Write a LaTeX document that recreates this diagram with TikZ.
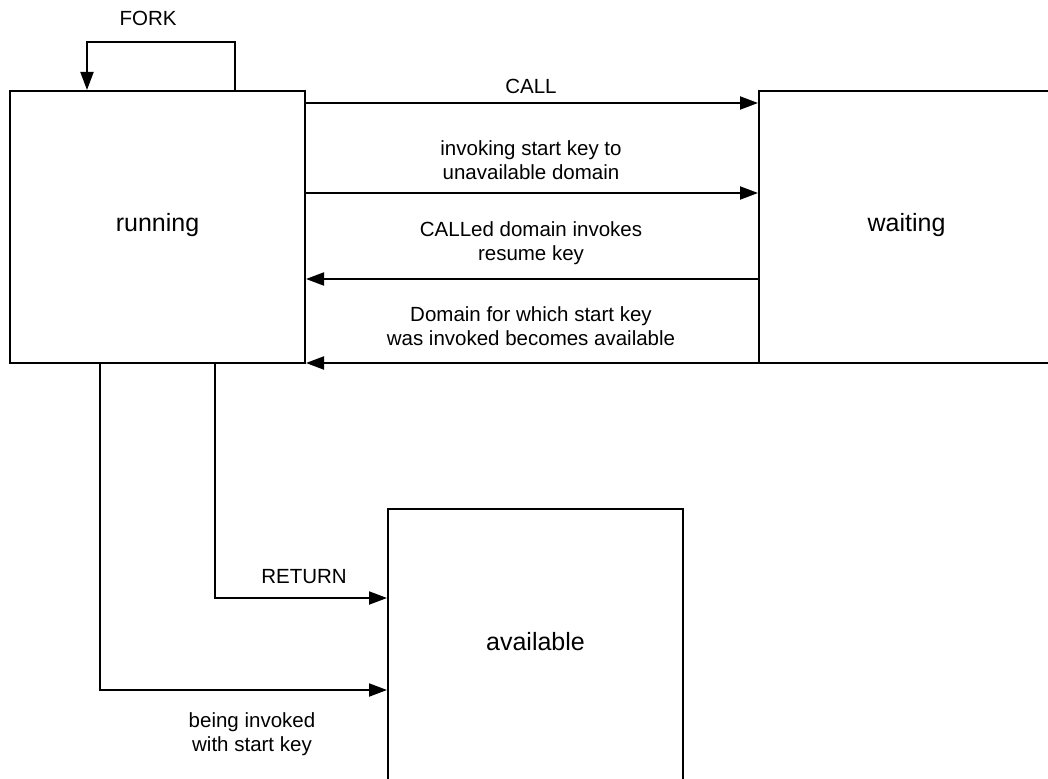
\documentclass[tikz,border=0pt]{standalone}
\usepackage{fontspec}
\setmainfont{Liberation Sans}
\usetikzlibrary{arrows.meta}

\tikzset{
  state/.style={draw,line width=2pt,minimum width=295pt,minimum height=272pt,inner sep=0,
    font=\fontsize{25}{30}\selectfont},
  lbl/.style={align=center,inner sep=0,font=\fontsize{20.5}{24.5}\selectfont},
  arr/.style={line width=2pt,-{Triangle[length=18pt,width=13pt]}},
  wire/.style={line width=2pt}
}

\begin{document}
\begin{tikzpicture}[x=1pt,y=-1pt]
    \useasboundingbox (0,0) rectangle (1048,778);
    % states
    \node[state,anchor=north west,text depth=9.5pt] (running) at (9,90) {running};
    \node[state,anchor=north west,text depth=9.5pt] (waiting) at (758,90) {waiting};
    \node[state,anchor=north west,text depth=8pt] (available) at (387,508) {available};
    % fork loop
    \coordinate (forkA) at ([xshift=226pt]running.north west);
    \coordinate (forkB) at ([xshift=78pt]running.north west);
    \draw[arr] (forkA) -- ++(0,-48) -| (forkB);
    \node[lbl] (forklbl) at (148,18) {FORK};
    % running <-> waiting
    \draw[arr] ([yshift=-13pt]running.north east) -- ([yshift=-13pt]waiting.north west);
    \node[lbl] (calllbl) at (531,86) {CALL};
    \draw[arr] ([yshift=-103pt]running.north east) -- ([yshift=-103pt]waiting.north west);
    \node[lbl] (startlbl) at (531,160) {invoking start key to\\unavailable domain};
    \draw[arr] ([yshift=-189pt]waiting.north west) -- ([yshift=-189pt]running.north east);
    \node[lbl] (resumelbl) at (531,243) {CALLed domain invokes\\resume key};
    \draw[arr] ([yshift=1pt]waiting.south west) -- ([yshift=1pt]running.south east);
    \node[lbl] (availlbl) at (531,326) {Domain for which start key\\was invoked becomes available};
    % running -> available
    \draw[arr] ([xshift=206pt]running.south west) |- ([yshift=-90pt]available.north west);
    \node[lbl] (returnlbl) at (304,577) {RETURN};
    \draw[arr] ([xshift=91pt]running.south west) |- ([yshift=-182pt]available.north west);
    \node[lbl] (invokedlbl) at (252,734) {being invoked\\with start key};
\end{tikzpicture}
\end{document}
